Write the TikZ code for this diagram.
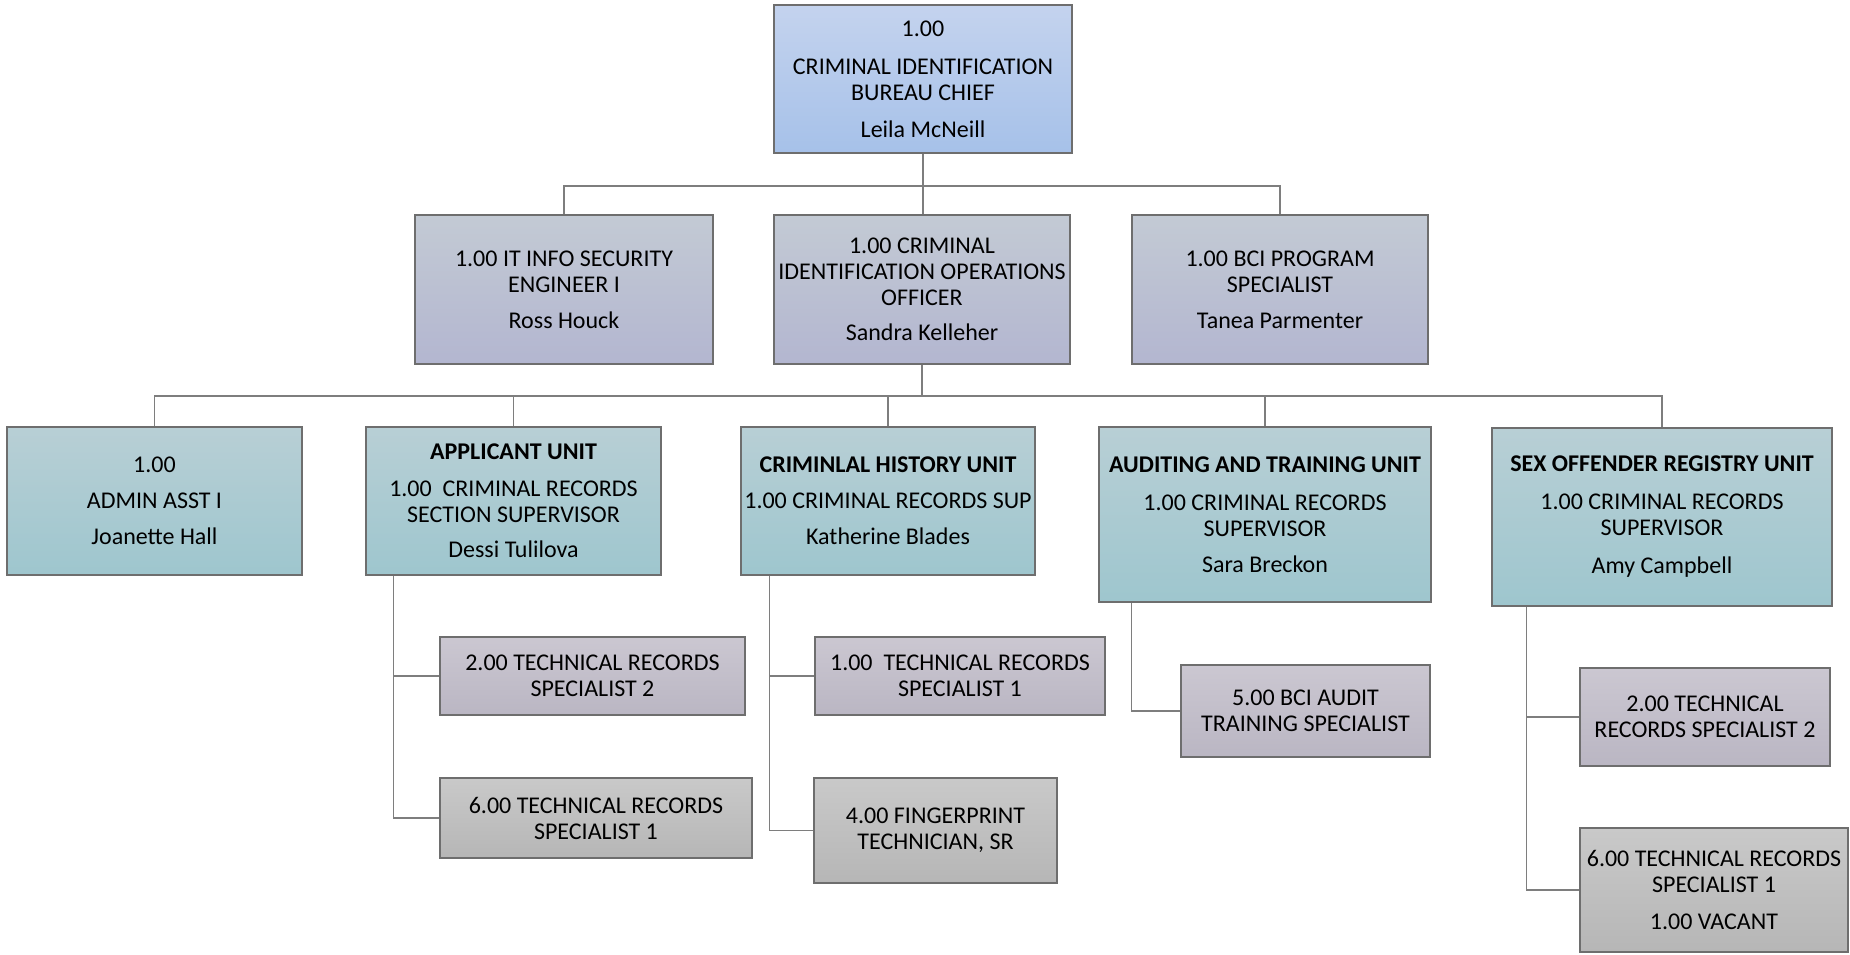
\documentclass[tikz,border=0pt]{standalone}
\usepackage{fontspec}
\setmainfont{Carlito}
\usetikzlibrary{shadings}

% box fills (top / bottom of each gradient)
\definecolor{chiefTop}{HTML}{C4D3EE}
\definecolor{chiefBot}{HTML}{A6C1E9}
\definecolor{mgrTop}{HTML}{C3CAD4}
\definecolor{mgrBot}{HTML}{B3B6D0}
\definecolor{unitTop}{HTML}{B8CFD5}
\definecolor{unitBot}{HTML}{9EC6CE}
\definecolor{staffTop}{HTML}{CBC7D1}
\definecolor{staffBot}{HTML}{BAB6C3}
\definecolor{grayTop}{HTML}{C9C9C9}
\definecolor{grayBot}{HTML}{B6B6B6}
\definecolor{edge}{HTML}{6E6E6E}
\definecolor{wire}{HTML}{7E7E7E}

\tikzset{
  box/.style={rectangle, draw=edge, line width=1.4pt, align=center,
    inner sep=2pt, text=black,
    font=\fontsize{24pt}{26pt}\selectfont},
  chiefbox/.style={box, top color=chiefTop, bottom color=chiefBot},
  mgrbox/.style={box, top color=mgrTop, bottom color=mgrBot},
  unitbox/.style={box, top color=unitTop, bottom color=unitBot},
  staffbox/.style={box, top color=staffTop, bottom color=staffBot},
  graybox/.style={box, top color=grayTop, bottom color=grayBot},
  wirelink/.style={draw=wire, line width=1.6pt},
}

\begin{document}
\begin{tikzpicture}[x=1pt, y=-1pt]
\fill[white] (0,0) rectangle (1850,955);
\useasboundingbox (0,0) rectangle (1850,955);

% bureau chief
\node[chiefbox, minimum width=298pt, minimum height=148pt] (chief) at (923,79)
  {1.00\\[12pt]CRIMINAL IDENTIFICATION\\BUREAU CHIEF\\[11pt]Leila McNeill};

% direct reports
\node[mgrbox, minimum width=298pt, minimum height=149pt] (itsec) at (564,289.5)
  {1.00 IT INFO SECURITY\\ENGINEER I\\[10pt]Ross Houck};
\node[mgrbox, minimum width=296pt, minimum height=149pt] (ops) at (922,289.5)
  {1.00 CRIMINAL\\IDENTIFICATION OPERATIONS\\OFFICER\\[9pt]Sandra Kelleher};
\node[mgrbox, minimum width=296pt, minimum height=149pt] (bci) at (1280,289.5)
  {1.00 BCI PROGRAM\\SPECIALIST\\[10pt]Tanea Parmenter};

% units under the operations officer
\node[unitbox, minimum width=295pt, minimum height=148pt] (admin) at (154.5,501)
  {1.00\\[10pt]ADMIN ASST I\\[10pt]Joanette Hall};
\node[unitbox, minimum width=295pt, minimum height=148pt] (appl) at (513.5,501)
  {\textbf{APPLICANT UNIT}\\[11pt]1.00\ \ CRIMINAL RECORDS\\SECTION SUPERVISOR\\[9pt]Dessi Tulilova};
\node[unitbox, minimum width=294pt, minimum height=148pt] (chu) at (888,501)
  {\textbf{CRIMINLAL HISTORY UNIT}\\[10pt]1.00 CRIMINAL RECORDS SUP\\[10pt]Katherine Blades};
\node[unitbox, minimum width=332pt, minimum height=175pt] (audit) at (1265,514.5)
  {\textbf{AUDITING AND TRAINING UNIT}\\[12pt]1.00 CRIMINAL RECORDS\\SUPERVISOR\\[10pt]Sara Breckon};
\node[unitbox, minimum width=340pt, minimum height=178pt] (sor) at (1662,517)
  {\textbf{SEX OFFENDER REGISTRY UNIT}\\[12pt]1.00 CRIMINAL RECORDS\\SUPERVISOR\\[12pt]Amy Campbell};

% unit staff
\node[staffbox, minimum width=305pt, minimum height=78pt] (a1) at (592.5,676)
  {2.00 TECHNICAL RECORDS\\SPECIALIST 2};
\node[graybox, minimum width=312pt, minimum height=80pt] (a2) at (596,818)
  {6.00 TECHNICAL RECORDS\\SPECIALIST 1};
\node[staffbox, minimum width=290pt, minimum height=78pt] (c1) at (960,676)
  {1.00\ \ TECHNICAL RECORDS\\SPECIALIST 1};
\node[graybox, minimum width=243pt, minimum height=105pt] (c2) at (935.5,830.5)
  {4.00 FINGERPRINT\\TECHNICIAN, SR};
\node[staffbox, minimum width=249pt, minimum height=92pt] (t1) at (1305.5,711)
  {5.00 BCI AUDIT\\TRAINING SPECIALIST};
\node[staffbox, minimum width=250pt, minimum height=98pt] (s1) at (1705,717)
  {2.00 TECHNICAL\\RECORDS SPECIALIST 2};
\node[graybox, minimum width=268pt, minimum height=124pt] (s2) at (1714,890)
  {6.00 TECHNICAL RECORDS\\SPECIALIST 1\\[11pt]1.00 VACANT};

% chief to direct reports
\draw[wirelink] (chief.south) -- ++(0,32) -| (itsec.north);
\draw[wirelink] (chief.south) -- ++(0,32) -| (bci.north);
\draw[wirelink] (chief.south) -- (chief.south |- ops.north);

% operations officer to units
\foreach \u in {admin, appl, chu, audit, sor}
  \draw[wirelink] (ops.south) -- ++(0,31) -| (\u.north);

% units to their staff
\draw[wirelink] ([xshift=28pt]appl.south west) |- (a1.west);
\draw[wirelink] ([xshift=28pt]appl.south west) |- (a2.west);
\draw[wirelink] ([xshift=29pt]chu.south west) |- (c1.west);
\draw[wirelink] ([xshift=29pt]chu.south west) |- (c2.west);
\draw[wirelink] ([xshift=33pt]audit.south west) |- (t1.west);
\draw[wirelink] ([xshift=35pt]sor.south west) |- (s1.west);
\draw[wirelink] ([xshift=35pt]sor.south west) |- (s2.west);
\end{tikzpicture}
\end{document}
